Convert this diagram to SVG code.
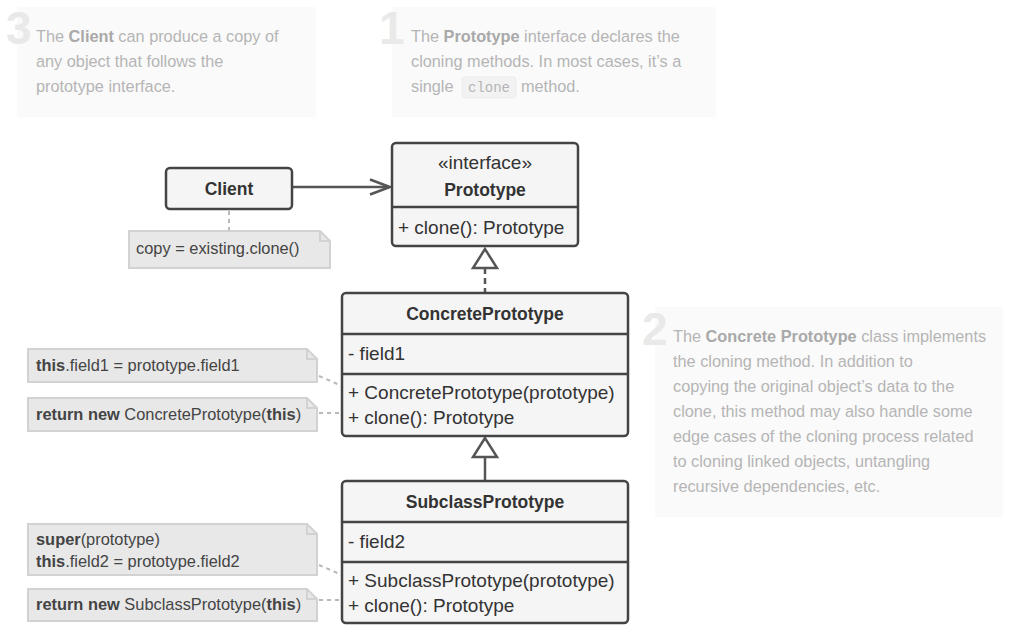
<svg xmlns="http://www.w3.org/2000/svg" width="1013" height="638" viewBox="0 0 1013 638">
<style>
  .bg { fill: #ffffff; }
  .callout { fill: #fafafa; }
  .num { font-family: "Liberation Sans", Arial, sans-serif; font-weight: bold; font-size: 46px; fill: #e9e9e9; }
  .ct { font-family: "Liberation Sans", Arial, sans-serif; font-size: 16.3px; fill: #b5b5b5; }
  .ct .b { font-weight: bold; fill: #a9a9a9; }
  .code { font-family: "Liberation Mono", "DejaVu Sans Mono", monospace; font-size: 14px; fill: #b5b5b5; }
  .codebg { fill: #f2f2f2; stroke: #ececec; stroke-width: 1; }
  .box { fill: #f5f5f5; stroke: #444444; stroke-width: 2.5; }
  .div { stroke: #444444; stroke-width: 2.5; fill: none; }
  .t { font-family: "Liberation Sans", Arial, sans-serif; font-size: 19px; fill: #333333; }
  .tb { font-family: "Liberation Sans", Arial, sans-serif; font-size: 17.5px; font-weight: bold; fill: #333333; }
  .note { fill: #e8e8e8; stroke: #d2d2d2; stroke-width: 2; }
  .fold { fill: none; stroke: #d2d2d2; stroke-width: 2; }
  .nt { font-family: "Liberation Sans", Arial, sans-serif; font-size: 16.4px; fill: #444444; }
  .nt .b { font-weight: bold; }
  .line { stroke: #555555; stroke-width: 2.5; fill: none; }
  .dash { stroke: #555555; stroke-width: 2.5; fill: none; stroke-dasharray: 6 4; }
  .tri { fill: #ffffff; stroke: #555555; stroke-width: 2.5; stroke-linejoin: miter; }
  .ndash { stroke: #b8b8b8; stroke-width: 2; fill: none; stroke-dasharray: 4 4; }
</style>
<rect class="bg" x="0" y="0" width="1013" height="638"/>

<g id="callout-3">
  <rect class="callout" x="17" y="7" width="299" height="110"/>
  <text class="num" x="6" y="44">3</text>
  <text class="ct" x="36" y="42">The <tspan class="b">Client</tspan> can produce a copy of</text>
  <text class="ct" x="36" y="67">any object that follows the</text>
  <text class="ct" x="36" y="92">prototype interface.</text>
</g>

<g id="callout-1">
  <rect class="callout" x="392" y="7" width="324" height="110"/>
  <text class="num" x="379" y="44">1</text>
  <text class="ct" x="411" y="42">The <tspan class="b">Prototype</tspan> interface declares the</text>
  <text class="ct" x="411" y="67">cloning methods. In most cases, it’s a</text>
  <text class="ct" x="411" y="92">single</text>
  <rect class="codebg" x="462" y="77" width="54" height="21" rx="3"/>
  <text class="code" x="468" y="92">clone</text>
  <text class="ct" x="521" y="92">method.</text>
</g>

<g id="callout-2">
  <rect class="callout" x="655" y="307" width="348" height="210"/>
  <text class="num" x="642" y="345">2</text>
  <text class="ct" x="673" y="342">The <tspan class="b">Concrete Prototype</tspan> class implements</text>
  <text class="ct" x="673" y="367">the cloning method. In addition to</text>
  <text class="ct" x="673" y="392">copying the original object’s data to the</text>
  <text class="ct" x="673" y="417">clone, this method may also handle some</text>
  <text class="ct" x="673" y="442">edge cases of the cloning process related</text>
  <text class="ct" x="673" y="467">to cloning linked objects, untangling</text>
  <text class="ct" x="673" y="492">recursive dependencies, etc.</text>
</g>

<g id="connectors">
  <line class="line" x1="292" y1="187" x2="389" y2="187"/>
  <polyline class="line" points="370,179.5 390,187 370,194.5"/>
  <line class="dash" x1="485" y1="268" x2="485" y2="292"/>
  <polygon class="tri" points="485,249 473,268 497,268"/>
  <line class="line" x1="485" y1="457" x2="485" y2="481"/>
  <polygon class="tri" points="485,438 473,457 497,457"/>
  <line class="ndash" x1="229" y1="211" x2="229" y2="231"/>
  <line class="ndash" x1="319" y1="376" x2="342" y2="386"/>
  <line class="ndash" x1="319" y1="413" x2="342" y2="413"/>
  <line class="ndash" x1="319" y1="565" x2="342" y2="575"/>
  <line class="ndash" x1="319" y1="600" x2="342" y2="600"/>
</g>

<g id="client">
  <rect class="box" x="166" y="168" width="126" height="41" rx="4"/>
  <text class="tb" x="229" y="194.5" text-anchor="middle">Client</text>
</g>

<g id="client-note">
  <path class="note" d="M129,231 H320 L330,241 V268 H129 Z"/>
  <path class="fold" d="M320,231 V241 H330"/>
  <text class="nt" x="136" y="254">copy = existing.clone()</text>
</g>

<g id="prototype">
  <rect class="box" x="392" y="143" width="186" height="103" rx="4"/>
  <line class="div" x1="392" y1="207" x2="578" y2="207"/>
  <text class="t" x="485" y="169" text-anchor="middle">«interface»</text>
  <text class="tb" x="485" y="196" text-anchor="middle">Prototype</text>
  <text class="t" x="398" y="234">+ clone(): Prototype</text>
</g>

<g id="concrete-prototype">
  <rect class="box" x="342" y="293" width="286" height="143" rx="4"/>
  <line class="div" x1="342" y1="334" x2="628" y2="334"/>
  <line class="div" x1="342" y1="374" x2="628" y2="374"/>
  <text class="tb" x="485" y="320" text-anchor="middle">ConcretePrototype</text>
  <text class="t" x="348" y="360">- field1</text>
  <text class="t" x="348" y="399">+ ConcretePrototype(prototype)</text>
  <text class="t" x="348" y="424">+ clone(): Prototype</text>
</g>

<g id="concrete-note-1">
  <path class="note" d="M28,349 H307 L317,359 V382 H28 Z"/>
  <path class="fold" d="M307,349 V359 H317"/>
  <text class="nt" x="36" y="371"><tspan class="b">this</tspan>.field1 = prototype.field1</text>
</g>

<g id="concrete-note-2">
  <path class="note" d="M28,398 H307 L317,408 V431 H28 Z"/>
  <path class="fold" d="M307,398 V408 H317"/>
  <text class="nt" x="36" y="420"><tspan class="b">return new</tspan> ConcretePrototype(<tspan class="b">this</tspan>)</text>
</g>

<g id="subclass-prototype">
  <rect class="box" x="342" y="481" width="286" height="142" rx="4"/>
  <line class="div" x1="342" y1="522" x2="628" y2="522"/>
  <line class="div" x1="342" y1="562" x2="628" y2="562"/>
  <text class="tb" x="485" y="508" text-anchor="middle">SubclassPrototype</text>
  <text class="t" x="348" y="548">- field2</text>
  <text class="t" x="348" y="587">+ SubclassPrototype(prototype)</text>
  <text class="t" x="348" y="612">+ clone(): Prototype</text>
</g>

<g id="subclass-note-1">
  <path class="note" d="M28,524 H307 L317,534 V575 H28 Z"/>
  <path class="fold" d="M307,524 V534 H317"/>
  <text class="nt" x="36" y="545"><tspan class="b">super</tspan>(prototype)</text>
  <text class="nt" x="36" y="567"><tspan class="b">this</tspan>.field2 = prototype.field2</text>
</g>

<g id="subclass-note-2">
  <path class="note" d="M28,589 H307 L317,599 V621 H28 Z"/>
  <path class="fold" d="M307,589 V599 H317"/>
  <text class="nt" x="36" y="610"><tspan class="b">return new</tspan> SubclassPrototype(<tspan class="b">this</tspan>)</text>
</g>
</svg>
